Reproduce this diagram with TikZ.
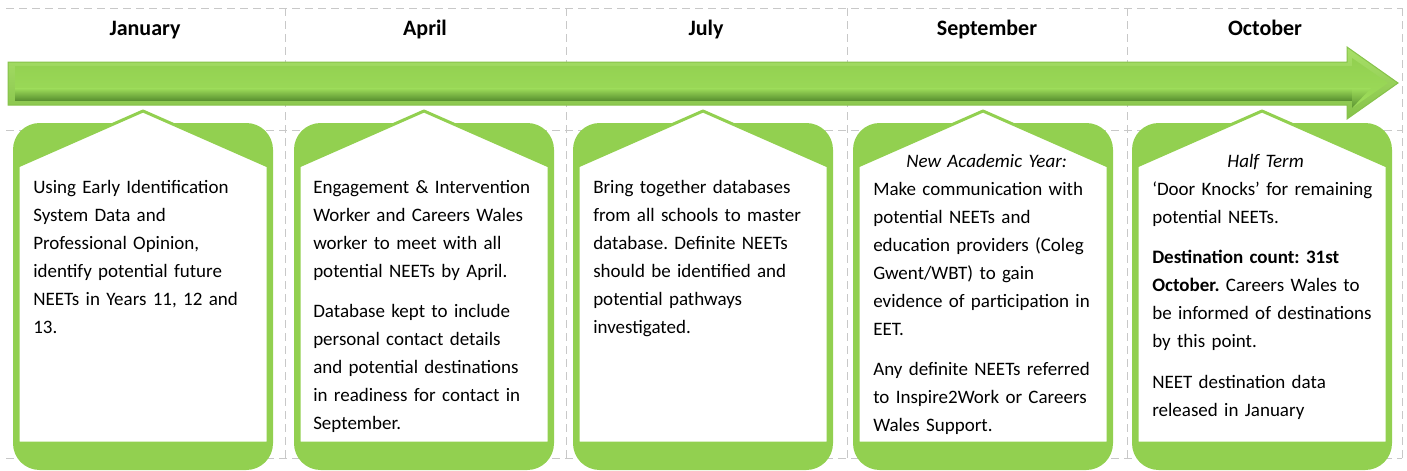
\documentclass[tikz,border=0pt]{standalone}
\usepackage{fontspec}
\setmainfont{Carlito}
\usetikzlibrary{positioning}

\definecolor{boxgreen}{HTML}{92D050}
\definecolor{arrowlight}{HTML}{A8E068}
\definecolor{arrowedge}{HTML}{86C24A}
\definecolor{arrowface}{HTML}{9EDD5B}
\definecolor{arrowdark}{HTML}{5B9331}
\definecolor{gridgray}{HTML}{C8C8C8}

\begin{document}
\frenchspacing
\begin{tikzpicture}[x=0.75pt, y=-0.75pt,
   gridline/.style={gridgray, line width=0.75pt, dash pattern=on 6pt off 3.75pt},
   month/.style={font=\fontsize{16.5pt}{20pt}\selectfont\bfseries, anchor=base},
   boxtext/.style={font=\fontsize{14.25pt}{21pt}\selectfont, text width=170pt,
                   align=left, inner sep=0pt, anchor=base west}]
   \useasboundingbox (0,0) rectangle (1407,471);

   % Grid
   \draw[gridline] (6,8) -- (1402,8);
   \draw[gridline] (6,130) -- (1402,130);
   \draw[gridline] (6,458) -- (1402,458);
   \foreach \gx in {285,566,847,1127,1402}
      \draw[gridline] (\gx,8) -- (\gx,458);

   % Months
   \node[month] (jan) at (145,36) {January};
   \node[month] (apr) at (425,36) {April};
   \node[month] (jul) at (706,36) {July};
   \node[month] (sep) at (987,36) {September};
   \node[month] (oct) at (1265,36) {October};

   % Time arrow
   \shade[top color=arrowlight, bottom color=arrowedge, draw=arrowedge, line width=0.75pt]
      (8,62) -- (1347,62) -- (1347,47) -- (1398,83) -- (1347,119) -- (1347,105) -- (8,105) -- cycle;
   \shade[top color=boxgreen, bottom color=arrowface]
      (15,66) -- (1352,66) -- (1352,58) -- (1388,83) -- (1352,108) -- (1352,100) -- (15,100) -- cycle;
   % dark band under the shaft
   \shade[top color=arrowface, bottom color=arrowdark] (15,88) rectangle (1352,100);
   \shade[top color=arrowface, bottom color=arrowdark] (1352,88) -- (1371,88) -- (1352,108) -- cycle;

   % Boxes
   \foreach \bx in {13,294,573,853,1132} {
      \fill[boxgreen, rounded corners=20] (\bx,123) rectangle ++(260,347);
      \filldraw[fill=white, draw=boxgreen, line width=2.25pt, line join=round]
         (\bx+5,166) -- (\bx+130,111) -- (\bx+255,166) -- (\bx+255,443) -- (\bx+5,443) -- cycle;
   }

   % Box texts
   \node[boxtext] (jantext) at (33,193) {Using Early Identification\\
      System Data and\\ Professional Opinion,\\ identify potential future\\
      NEETs in Years 11, 12 and\\ 13.};

   \node[boxtext] (aprtext) at (313,193) {Engagement \& Intervention\\
      Worker and Careers Wales\\ worker to meet with all\\ potential NEETs by April.\par
      \vspace{9.5pt}Database kept to include\\ personal contact details\\
      and potential destinations\\ in readiness for contact in\\ September.};

   \node[boxtext] (jultext) at (593,193) {Bring together databases\\
      from all schools to master\\ database. Definite NEETs\\ should be identified and\\
      potential pathways\\ investigated.};

   \node[boxtext] (septext) at (873,167) {{\centering\itshape New Academic Year:\par}
      Make communication with\\ potential NEETs and\\ education providers (Coleg\\
      Gwent/WBT) to gain\\ evidence of participation in\\ EET.\par
      \vspace{9.5pt}Any definite NEETs referred\\ to Inspire2Work or Careers\\ Wales Support.};

   \node[boxtext] (octtext) at (1152,167) {{\centering\itshape Half Term\par}
      ‘Door Knocks’ for remaining\\ potential NEETs.\par
      \vspace{9.5pt}\textbf{Destination count: 31st}\\ \textbf{October.} Careers Wales to\\
      be informed of destinations\\ by this point.\par
      \vspace{9.5pt}NEET destination data\\ released in January};
\end{tikzpicture}
\end{document}
